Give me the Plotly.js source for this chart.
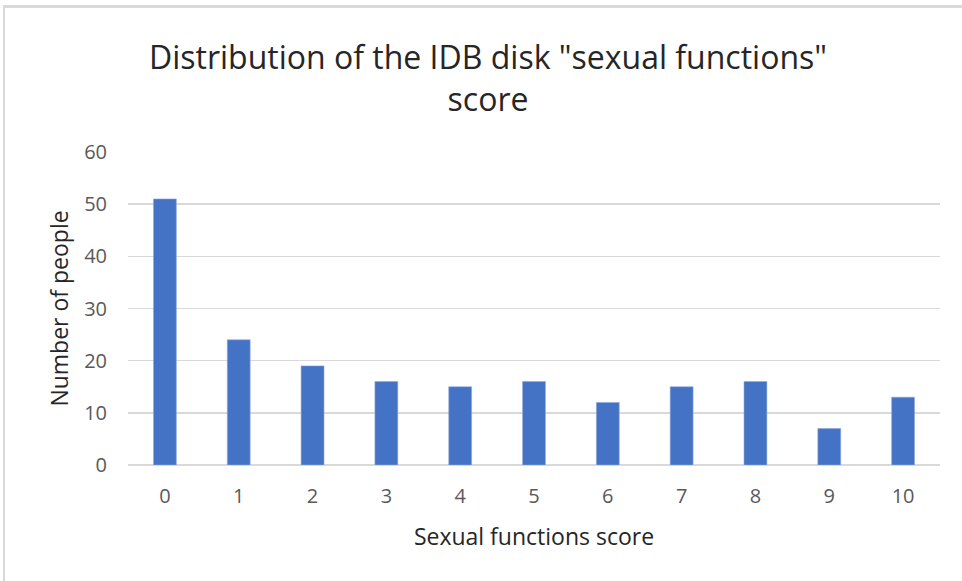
<!DOCTYPE html>
<html><head><meta charset="utf-8">
<script src="https://cdn.plot.ly/plotly-3.0.1.min.js"></script>
<style>
html,body{margin:0;padding:0;background:#fff;}
#frame{position:absolute;left:3px;top:5px;width:959px;height:576px;border-top:3px solid #d9d9d9;border-left:2px solid #d9d9d9;box-sizing:border-box;}
#chart{position:absolute;left:0;top:0;width:962px;height:581px;}
</style></head>
<body>
<div id="frame"></div>
<div id="chart"></div>
<script>
const categories = ["0","1","2","3","4","5","6","7","8","9","10"];
const counts = [51, 24, 19, 16, 15, 16, 12, 15, 16, 7, 13];
const yTicks = [0, 10, 20, 30, 40, 50, 60];

const font = "'Open Sans', sans-serif";

Plotly.newPlot('chart', [{
  type: 'bar',
  x: categories,
  y: counts,
  marker: {color: '#4472C4', line: {color: '#8faadc', width: 0.6}},
  hoverinfo: 'x+y'
}], {
  width: 962, height: 581,
  paper_bgcolor: 'rgba(0,0,0,0)',
  plot_bgcolor: 'rgba(0,0,0,0)',
  margin: {l: 128, r: 22, t: 152, b: 116},
  bargap: 0.69,
  font: {family: font, color: '#595959'},
  title: {
    text: 'Distribution of the IDB disk "sexual functions"<br>score',
    font: {family: font, size: 32, color: '#262626'},
    xref: 'container', x: 488/962, xanchor: 'center',
    yref: 'container', y: 1 - 69/581, yanchor: 'top'
  },
  xaxis: {
    type: 'category',
    showgrid: false,
    showline: false,
    zeroline: false,
    ticks: '',
    tickfont: {size: 20, color: '#595959'},
    ticklabelstandoff: 17,
    title: {text: 'Sexual functions score', font: {size: 23, color: '#262626'}, standoff: 20}
  },
  yaxis: {
    range: [0, 60],
    tickvals: yTicks,
    ticktext: yTicks.map(String),
    showgrid: true,
    gridcolor: '#d9d9d9',
    gridwidth: 1.5,
    zeroline: true,
    zerolinecolor: '#d9d9d9',
    zerolinewidth: 1.5,
    showline: false,
    ticks: '',
    tickfont: {size: 20, color: '#595959'},
    ticklabelstandoff: 20,
    title: {text: 'Number of people', font: {size: 23, color: '#262626'}, standoff: 9}
  },
  showlegend: false
}, {displayModeBar: false, staticPlot: true});
</script>
</body></html>
